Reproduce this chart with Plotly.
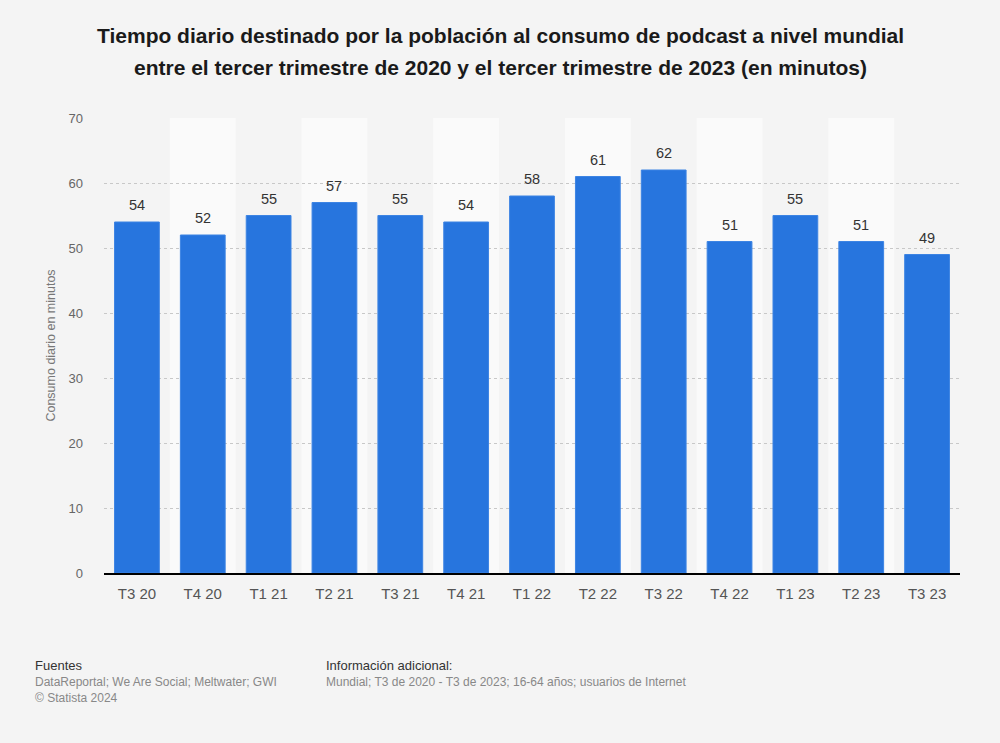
import plotly.graph_objects as go

categories = ["T3 20", "T4 20", "T1 21", "T2 21", "T3 21", "T4 21", "T1 22",
              "T2 22", "T3 22", "T4 22", "T1 23", "T2 23", "T3 23"]
values = [54, 52, 55, 57, 55, 54, 58, 61, 62, 51, 55, 51, 49]
y_ticks = [0, 10, 20, 30, 40, 50, 60, 70]

title_lines = [
    "Tiempo diario destinado por la población al consumo de podcast a nivel mundial",
    "entre el tercer trimestre de 2020 y el tercer trimestre de 2023 (en minutos)",
]

FONT = "Liberation Sans, Arial, sans-serif"

# window coords of plot area: x 104..960, y 118..573
def px(wx):
    return (wx - 104) / 856

def py(wy):
    return (573 - wy) / 455

fig = go.Figure()
fig.add_trace(go.Bar(
    x=list(range(len(categories))), y=values,
    marker=dict(color="#2775de", line=dict(width=1, color="#3d84e3")),
    width=0.68,
    cliponaxis=False,
    hoverinfo="skip",
))

for i, v in enumerate(values):
    fig.add_annotation(
        x=i, y=v, xref="x", yref="y", text=str(v), showarrow=False,
        yanchor="bottom", yshift=7,
        font=dict(size=14.5, color="#333333", family=FONT),
    )

shapes = []
for i in range(len(categories)):
    if i % 2 == 1:
        shapes.append(dict(type="rect", xref="x", yref="paper",
                           x0=i - 0.5, x1=i + 0.5, y0=0, y1=1,
                           fillcolor="#fafafa", line=dict(width=0), layer="below"))

fig.update_layout(
    width=1000, height=743,
    paper_bgcolor="#f4f4f4", plot_bgcolor="#f4f4f4",
    margin=dict(l=104, r=40, t=118, b=170),
    font=dict(family=FONT, color="#666666"),
    shapes=shapes,
    showlegend=False,
)
fig.update_xaxes(
    tickmode="array", tickvals=list(range(len(categories))), ticktext=categories,
    range=[-0.5, len(categories) - 0.5],
    showgrid=False, showline=True, linecolor="#000000", linewidth=2,
    ticks="", ticklabelstandoff=6, tickfont=dict(size=15, color="#555555"),
)
fig.update_yaxes(
    range=[0, 70], tickvals=y_ticks, showgrid=True,
    gridcolor="#c8c8c8", griddash="dot", gridwidth=1,
    zeroline=False, ticks="", ticklabelstandoff=20,
    tickfont=dict(size=13, color="#666666"),
    title=dict(text="Consumo diario en minutos", font=dict(size=12.5, color="#777777"), standoff=10),
)

for k, line in enumerate(title_lines):
    fig.add_annotation(
        text="<b>" + line + "</b>", xref="paper", yref="paper",
        x=px(500), y=py(36 + 32 * k), xanchor="center", yanchor="middle",
        showarrow=False, font=dict(size=21, color="#1a1a1a", family=FONT),
    )

annotations = [
    dict(text="Fuentes", x=33, y=665, font=dict(size=13, color="#333333")),
    dict(text="DataReportal; We Are Social; Meltwater; GWI", x=33, y=682, font=dict(size=12, color="#888888")),
    dict(text="© Statista 2024", x=33, y=698, font=dict(size=12, color="#888888")),
    dict(text="Información adicional:", x=324, y=665, font=dict(size=13, color="#333333")),
    dict(text="Mundial; T3 de 2020 - T3 de 2023; 16-64 años; usuarios de Internet", x=324, y=682, font=dict(size=12, color="#888888")),
]
for a in annotations:
    fig.add_annotation(
        text=a["text"], xref="paper", yref="paper",
        x=px(a["x"]), y=py(a["y"]),
        xanchor="left", yanchor="middle", showarrow=False,
        font=dict(family=FONT, **a["font"]),
    )

fig.write_html(
    "out.html",
    config={"displayModeBar": False},
    post_script="document.body.style.margin='0';document.body.style.background='#f4f4f4';document.body.style.overflow='hidden';",
)
